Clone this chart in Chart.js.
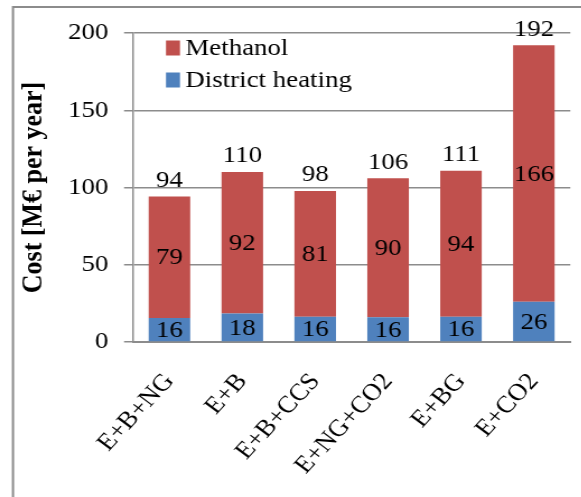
<!DOCTYPE html>
<html>
<head>
<meta charset="utf-8">
<script src="https://cdn.jsdelivr.net/npm/chart.js@4.4.0/dist/chart.umd.min.js"></script>
<style>
  html, body { margin: 0; padding: 0; background: #fff; overflow: hidden; }
  #wrap { width: 525px; height: 497px; transform: scaleX(1.12); transform-origin: 0 0; }
</style>
</head>
<body>
<div id="wrap"><canvas id="costChart" width="525" height="497"></canvas></div>
<script>
// Chart data
const categories = ['E+B+NG', 'E+B', 'E+B+CCS', 'E+NG+CO2', 'E+BG', 'E+CO2'];
const districtHeating = [15.6, 18.4, 16.4, 16.0, 16.4, 26.0];
const methanol = [78.6, 91.6, 81.4, 90.0, 94.4, 166.0];
const yTicks = [0, 50, 100, 150, 200];

const serif = '"Liberation Serif"';
const gridGray = '#8c8c8c';

// frame around the chart (only top and left visible)
const framePlugin = {
  id: 'frame',
  beforeDraw(chart) {
    const ctx = chart.ctx;
    ctx.save();
    ctx.strokeStyle = '#8c8c8c';
    ctx.lineWidth = 2;
    ctx.beginPath();
    ctx.moveTo(11.6, chart.height);
    ctx.lineTo(11.6, 7);
    ctx.lineTo(chart.width, 7);
    ctx.stroke();
    ctx.restore();
  }
};

// values inside segments and totals above bars
const labelPlugin = {
  id: 'barLabels',
  afterDatasetsDraw(chart) {
    const ctx = chart.ctx;
    ctx.save();
    ctx.font = '24px ' + serif;
    ctx.fillStyle = '#000';
    ctx.textAlign = 'center';
    ctx.textBaseline = 'middle';
    chart.data.datasets.forEach((ds, i) => {
      chart.getDatasetMeta(i).data.forEach((bar, j) => {
        ctx.fillText(Math.round(ds.data[j]), bar.x, (bar.y + bar.base) / 2 + 1);
      });
    });
    const topMeta = chart.getDatasetMeta(chart.data.datasets.length - 1);
    topMeta.data.forEach((bar, j) => {
      const total = districtHeating[j] + methanol[j];
      ctx.fillText(Math.round(total), bar.x, bar.y - 16);
    });
    ctx.restore();
  }
};

// legend drawn inside the plot area
const legendPlugin = {
  id: 'innerLegend',
  afterDraw(chart) {
    const ctx = chart.ctx;
    const items = chart.data.datasets.slice().reverse();
    ctx.save();
    ctx.font = '24px ' + serif;
    ctx.textBaseline = 'middle';
    ctx.textAlign = 'left';
    items.forEach((ds, i) => {
      const y = 48 + i * 32;
      ctx.fillStyle = ds.backgroundColor;
      ctx.fillRect(148.2, y - 7.5, 12.5, 15);
      ctx.fillStyle = '#000';
      ctx.fillText(ds.label, 165.5, y + 1);
    });
    ctx.restore();
  }
};

new Chart(document.getElementById('costChart'), {
  type: 'bar',
  data: {
    labels: categories,
    datasets: [
      { label: 'District heating', data: districtHeating, backgroundColor: '#4f81bd', borderWidth: 0 },
      { label: 'Methanol', data: methanol, backgroundColor: '#c0504d', borderWidth: 0 }
    ]
  },
  options: {
    responsive: false,
    animation: false,
    layout: { padding: { top: 33, right: 3.6, left: 0, bottom: 0 } },
    plugins: {
      legend: { display: false },
      tooltip: { enabled: false }
    },
    datasets: {
      bar: { categoryPercentage: 1, barPercentage: 0.57 }
    },
    scales: {
      x: {
        stacked: true,
        grid: { display: false, drawTicks: false },
        border: { color: gridGray, width: 2 },
        ticks: {
          color: '#000',
          font: { family: serif, size: 24 },
          minRotation: 50,
          maxRotation: 50,
          autoSkip: false,
          padding: 26
        },
        afterFit(scale) { scale.height = 155; }
      },
      y: {
        stacked: true,
        min: 0,
        max: 200,
        afterBuildTicks(scale) { scale.ticks = yTicks.map(v => ({ value: v })); },
        grid: { color: gridGray, lineWidth: 1.5, tickLength: 8 },
        border: { color: gridGray, width: 1.5 },
        ticks: {
          color: '#000',
          font: { family: serif, size: 24 },
          padding: 14
        },
        title: {
          display: true,
          text: 'Cost [M€ per year]',
          color: '#000',
          font: { family: serif, size: 26, weight: 'bold' },
          padding: { top: 15, bottom: 0 }
        },
        afterFit(scale) { scale.width = 118.75; }
      }
    }
  },
  plugins: [framePlugin, labelPlugin, legendPlugin]
});
</script>
</body>
</html>
